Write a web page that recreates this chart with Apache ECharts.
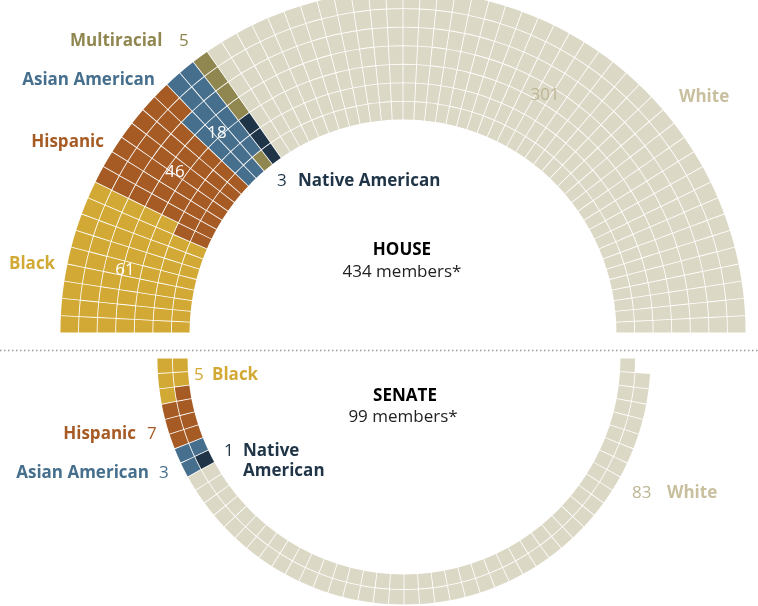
<!DOCTYPE html>
<html><head><meta charset="utf-8">
<script src="https://cdn.jsdelivr.net/npm/echarts@6/dist/echarts.min.js"></script>
<style>html,body{margin:0;padding:0;background:#fff}#c{width:758px;height:606px}</style>
</head><body><div id="c"></div>
<script>
// ---- data ----
const houseGroups = ['Black', 'Hispanic', 'Asian American', 'Multiracial', 'Native American', 'White'];
const houseCounts = [61, 46, 18, 5, 3, 301];
const senateGroups = ['Black', 'Hispanic', 'Asian American', 'Native American', 'White'];
const senateCounts = [5, 7, 3, 1, 83];
const houseRings = 7;
const houseSeatsPerRing = 62;
const senateRings = 2;
const senateSeatsPerRing = 50;

const groupColors = {
  'Black': '#D3A935',
  'Hispanic': '#A65A24',
  'Asian American': '#466F8D',
  'Multiracial': '#8F8650',
  'Native American': '#1F3446',
  'White': '#DCD8C6'
};

// ---- parliament layout: equal columns per ring, filled column by column (outer ring first) ----
function layoutSeats(rings, perRing, skipLastOuter) {
  const seats = [];
  for (let j = 0; j < perRing; j++) {
    for (let i = rings - 1; i >= 0; i--) {
      if (skipLastOuter && j === perRing - 1 && i === rings - 1) continue; // vacant seat
      seats.push({ ring: i, a0: 180 * j / perRing, a1: 180 * (j + 1) / perRing });
    }
  }
  return seats;
}
function assign(seats, groups, counts) {
  const out = [];
  let k = 0;
  groups.forEach((g, gi) => {
    for (let c = 0; c < counts[gi]; c++) {
      const s = seats[k++];
      out.push([s.ring, s.a0, s.a1, gi]);
    }
  });
  return out;
}
const houseData = assign(layoutSeats(houseRings, houseSeatsPerRing, false), houseGroups, houseCounts);
const senateData = assign(layoutSeats(senateRings, senateSeatsPerRing, true), senateGroups, senateCounts);

const GAP = 0.42;
function makeRender(groups) {
  return function (params, api) {
    const cs = params.coordSys;
    const cx = cs.cx, cy = cs.cy;
    const ring = api.value(0), a0 = api.value(1), a1 = api.value(2), gi = api.value(3);
    const p0 = api.coord([ring, a0]);
    const p1 = api.coord([ring + 1, a1]);
    let r0 = Math.hypot(p0[0] - cx, p0[1] - cy);
    let r = Math.hypot(p1[0] - cx, p1[1] - cy);
    let t0 = Math.atan2(p0[1] - cy, p0[0] - cx);
    let t1 = Math.atan2(p1[1] - cy, p1[0] - cx);
    let d = t1 - t0;
    d = ((d + Math.PI) % (2 * Math.PI) + 2 * Math.PI) % (2 * Math.PI) - Math.PI;
    let s, e;
    if (d >= 0) { s = t0; e = t0 + d; } else { s = t1; e = t1 - d; }
    const rm = (r0 + r) / 2;
    s += GAP / rm; e -= GAP / rm; r0 += GAP; r -= GAP;
    return {
      type: 'sector',
      shape: { cx, cy, r0, r, startAngle: s, endAngle: e, clockwise: true },
      style: { fill: groupColors[groups[gi]] }
    };
  };
}

const FONT = '"Open Sans", "Liberation Sans", sans-serif';
function txt(text, x, y, color, bold, align, size) {
  return {
    type: 'text', x, y, silent: true, z: 100,
    style: {
      text, fill: color, font: (bold ? 'bold ' : '') + (size || 17) + 'px ' + FONT,
      textAlign: align || 'left', textVerticalAlign: 'middle'
    }
  };
}

const chart = echarts.init(document.getElementById('c'), null, { renderer: 'canvas' });
const hiddenAxis = { show: false, axisLine: { show: false }, axisTick: { show: false }, axisLabel: { show: false }, splitLine: { show: false } };
chart.setOption({
  animation: false,
  backgroundColor: '#fff',
  polar: [
    { center: [403, 333], radius: [213, 343] },
    { center: [404, 358], radius: [216, 247] }
  ],
  angleAxis: [
    Object.assign({ polarIndex: 0, type: 'value', min: 0, max: 360, startAngle: 180, clockwise: true }, hiddenAxis),
    Object.assign({ polarIndex: 1, type: 'value', min: 0, max: 360, startAngle: 180, clockwise: false }, hiddenAxis)
  ],
  radiusAxis: [
    Object.assign({ polarIndex: 0, type: 'value', min: 0, max: houseRings }, hiddenAxis),
    Object.assign({ polarIndex: 1, type: 'value', min: 0, max: senateRings }, hiddenAxis)
  ],
  series: [
    { type: 'custom', coordinateSystem: 'polar', polarIndex: 0, z: 2, data: houseData, renderItem: makeRender(houseGroups) },
    { type: 'custom', coordinateSystem: 'polar', polarIndex: 1, z: 2, data: senateData, renderItem: makeRender(senateGroups) }
  ],
  graphic: {
    elements: [
      { type: 'line', silent: true, z: 100, shape: { x1: 0, y1: 350.5, x2: 758, y2: 350.5 }, style: { stroke: '#9a9a9a', lineWidth: 1.5, lineDash: [1.5, 2.5] } },
      // House labels
      txt('Multiracial', 70, 41, '#8F8650', true),
      txt('5', 179, 41, '#8F8650', false),
      txt('Asian American', 155, 80, '#466F8D', true, 'right'),
      txt('Hispanic', 104, 142, '#A65A24', true, 'right'),
      txt('Black', 9, 264, '#D3A935', true),
      txt('61', 125, 270, '#ffffff', false, 'center'),
      txt('46', 175, 172, '#ffffff', false, 'center'),
      txt('18', 217, 133, '#ffffff', false, 'center'),
      txt('3', 277, 181, '#1F3446', false),
      txt('Native American', 298, 181, '#1F3446', true),
      txt('301', 545, 95, '#BDB594', false, 'center'),
      txt('White', 679, 97, '#C8BF9E', true),
      txt('HOUSE', 402, 250, '#000000', true, 'center'),
      txt('434 members*', 402, 272, '#222222', false, 'center'),
      // Senate labels
      txt('5', 194, 375, '#D3A935', false),
      txt('Black', 212, 375, '#D3A935', true),
      txt('SENATE', 405, 396, '#000000', true, 'center'),
      txt('99 members*', 403, 417, '#222222', false, 'center'),
      txt('Hispanic', 136, 434, '#A65A24', true, 'right'),
      txt('7', 147, 434, '#A65A24', false),
      txt('1', 224, 451, '#1F3446', false),
      txt('Native', 243, 451, '#1F3446', true),
      txt('American', 243, 471, '#1F3446', true),
      txt('Asian American', 149, 473, '#466F8D', true, 'right'),
      txt('3', 159, 473, '#466F8D', false),
      txt('83', 632, 493, '#BDB594', false),
      txt('White', 667, 493, '#C8BF9E', true)
    ]
  }
});
</script></body></html>
